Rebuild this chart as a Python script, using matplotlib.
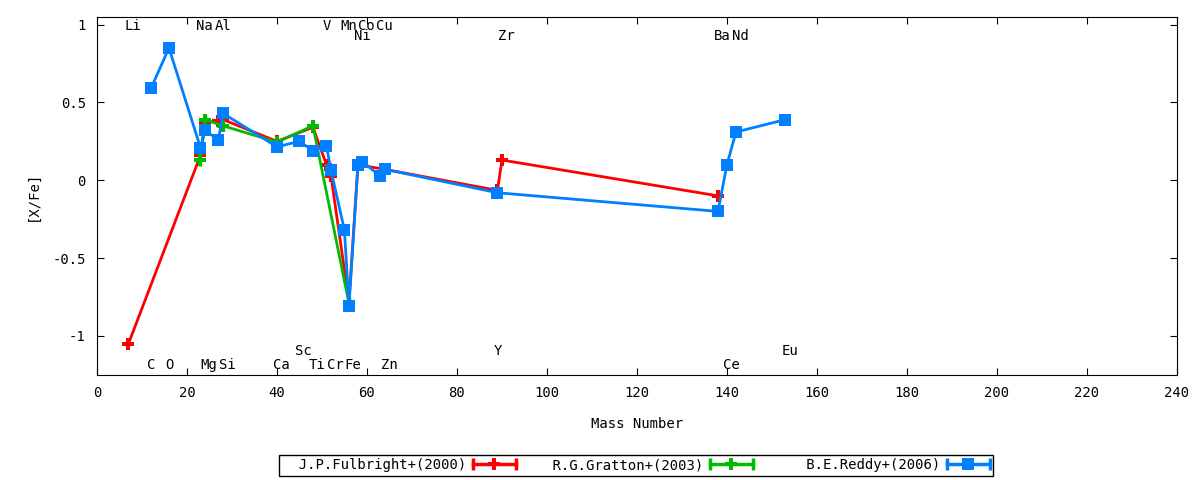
import matplotlib.pyplot as plt
from matplotlib.lines import Line2D
from matplotlib.legend_handler import HandlerLine2D

plt.rcParams['font.family'] = ['DejaVu Sans Mono']
plt.rcParams['font.size'] = 10

# J.P.Fulbright+(2000)
fulbright_mass = [7, 23, 24, 27, 28, 40, 48, 51, 52, 56, 58, 64, 89, 90, 138]
fulbright_xfe = [-1.05, 0.16, 0.37, 0.38, 0.39, 0.25, 0.34, 0.10, 0.03, -0.78, 0.10, 0.07, -0.065, 0.13, -0.10]

# R.G.Gratton+(2003)
gratton_mass = [23, 24, 28, 40, 48, 56]
gratton_xfe = [0.13, 0.39, 0.35, 0.245, 0.35, -0.79]
gratton_err = [0.04, 0.03, 0.03, 0.01, 0.03, 0.04]

# B.E.Reddy+(2006)
reddy_mass = [12, 16, 23, 24, 27, 28, 40, 45, 48, 51, 52, 55, 56, 58, 59, 63, 64, 89, 138, 140, 142, 153]
reddy_xfe = [0.59, 0.85, 0.21, 0.32, 0.26, 0.43, 0.215, 0.25, 0.19, 0.22, 0.065, -0.32, -0.81,
             0.10, 0.12, 0.025, 0.07, -0.08, -0.20, 0.10, 0.31, 0.39]

# element labels: name, mass number, row (0/1 = top rows, 2/3 = bottom rows)
elem_names = ['Li', 'Na', 'Al', 'V', 'Mn', 'Co', 'Cu', 'Ni', 'Zr', 'Ba', 'Nd',
              'Sc', 'Y', 'Eu', 'C', 'O', 'Mg', 'Si', 'Ca', 'Ti', 'Cr', 'Fe', 'Zn', 'Ce']
elem_mass = [7, 23, 27, 51, 55, 59, 63, 58, 90, 138, 142,
             45, 89, 153, 12, 16, 24, 28, 40, 48, 52, 56, 64, 140]
elem_row = [0, 0, 0, 0, 0, 0, 0, 1, 1, 1, 1,
            2, 2, 2, 3, 3, 3, 3, 3, 3, 3, 3, 3, 3]
row_y = {0: 0.99, 1: 0.925, 2: -1.095, 3: -1.185}

series_names = ['J.P.Fulbright+(2000)', 'R.G.Gratton+(2003)', 'B.E.Reddy+(2006)']

red, green, blue = '#ff0000', '#00bb00', '#0080ff'

fig = plt.figure(figsize=(12, 4.8), dpi=100)
ax = fig.add_axes([0.0808, 0.219, 0.9, 0.746])

ax.plot(fulbright_mass, fulbright_xfe, color=red, lw=2, marker='P', ms=8, mew=0, zorder=3)
ax.errorbar(gratton_mass, gratton_xfe, yerr=gratton_err, color=green, lw=2, marker='P', ms=8,
            mew=0, elinewidth=2.5, capsize=4, capthick=2.5, zorder=4)
ax.plot(reddy_mass, reddy_xfe, color=blue, lw=2, marker='s', ms=8, mew=0, zorder=5)

for name, m, r in zip(elem_names, elem_mass, elem_row):
    ax.annotate(name, (m, row_y[r]), xytext=(-3, 0), textcoords='offset points',
                ha='left', va='center')

ax.set_xlim(0, 240)
ax.set_ylim(-1.25, 1.05)
ax.set_xticks(range(0, 241, 20))
ax.set_yticks([-1, -0.5, 0, 0.5, 1])
ax.set_yticklabels(['-1', '-0.5', '0', '0.5', '1'])
ax.tick_params(direction='in', top=True, right=True, length=5, pad=8)
ax.set_xlabel('Mass Number', labelpad=12)
ax.set_ylabel('[X/Fe]', labelpad=9)

# gnuplot-like legend samples: line with end caps and a marker in the middle
handles, hmap = [], {}
for c, mk in [(red, 'P'), (green, 'P'), (blue, 's')]:
    caps = Line2D([], [], color=c, lw=2.5, marker='|', ms=9, mew=2.5)
    mid = Line2D([], [], color=c, lw=0, marker=mk, ms=8, mew=0)
    hmap[caps] = HandlerLine2D(numpoints=2, marker_pad=0)
    hmap[mid] = HandlerLine2D(numpoints=1)
    handles.append((caps, mid))

# texts right-justified to a common width, as gnuplot does
width = max(len(s) for s in series_names) + 2
labels = [s.rjust(width) for s in series_names]

fig.legend(handles, labels, handler_map=hmap, loc='center', bbox_to_anchor=(0.53, 0.031),
           ncol=3, markerfirst=False, frameon=True, fancybox=False, edgecolor='black',
           framealpha=1, borderpad=0.25, borderaxespad=0, handlelength=3.1,
           handletextpad=0.45, columnspacing=0.25)

fig.savefig('out.png', dpi=100)
